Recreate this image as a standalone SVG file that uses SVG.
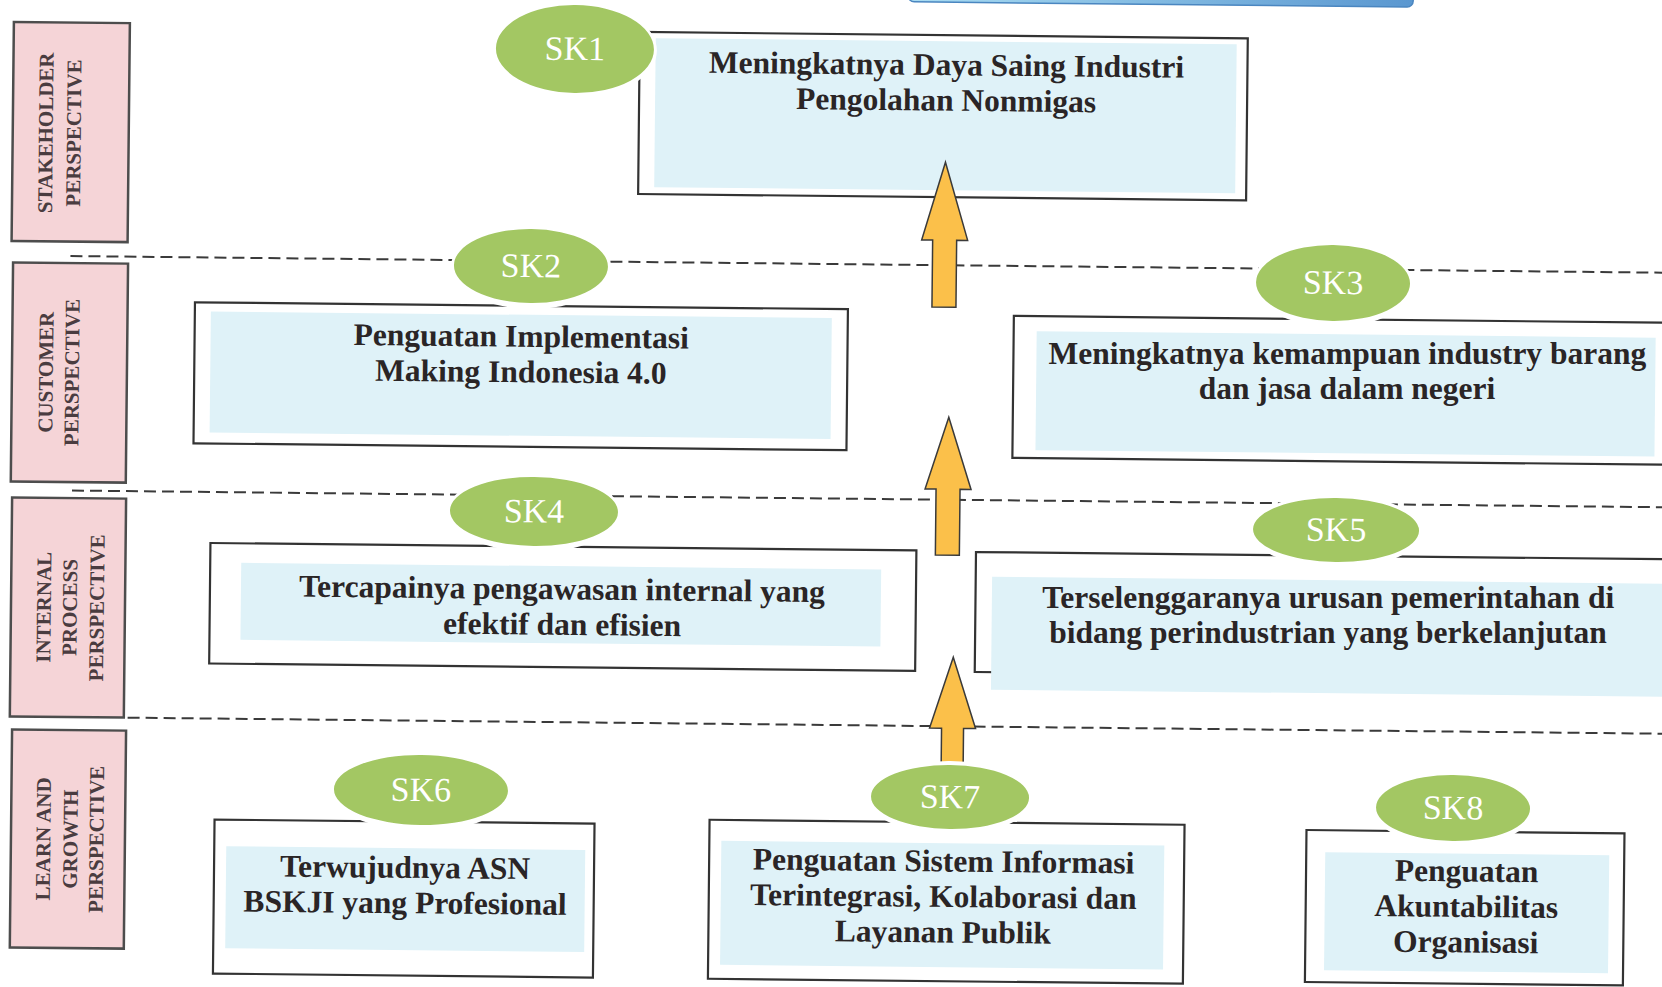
<svg xmlns="http://www.w3.org/2000/svg" width="1662" height="987" viewBox="0 0 1662 987">
<defs>
<style>
.lbl{fill:#f5d4d7;stroke:#4d4d4d;stroke-width:2.5}
.lt{font-family:"Liberation Serif","Times New Roman",serif;font-weight:bold;font-size:21px;fill:#4a3c40;text-anchor:middle}
.sep{stroke:#3a3a3a;stroke-width:2;stroke-dasharray:12 6;fill:none}
.box{fill:#fff;stroke:#333;stroke-width:2.2}
.inner{fill:#dff2f8}
.halo{fill:#fff}
.oval{fill:#a3c763}
.sk{font-family:"Liberation Serif","Times New Roman",serif;font-size:34px;fill:#fff;text-anchor:middle}
.bt{font-family:"Liberation Serif","Times New Roman",serif;font-weight:bold;font-size:31.5px;fill:#2a2526;text-anchor:middle}
.arr{fill:#fbc04a;stroke:#3a3a3a;stroke-width:1.5}
</style>
<linearGradient id="bar" x1="0" x2="1" y1="0" y2="0"><stop offset="0" stop-color="#a9dcf2"/><stop offset="1" stop-color="#5a97d0"/></linearGradient>
</defs>
<rect width="1662" height="987" fill="#fff"/>
<g transform="rotate(0.6 831 493)">
<rect x="903" y="-30" width="505" height="31" rx="6" fill="url(#bar)" stroke="#4a86c0" stroke-width="1.5"/>

<g id="separators">
<line class="sep" x1="68" y1="264" x2="1720" y2="264"/>
<line class="sep" x1="72" y1="498.5" x2="1720" y2="498.5"/>
<line class="sep" x1="130" y1="725" x2="1720" y2="725"/>
</g>

<g id="perspective-stakeholder">
<rect class="lbl" x="9" y="30.5" width="116" height="219"/>
<text class="lt" transform="translate(49 141) rotate(-90)">STAKEHOLDER</text>
<text class="lt" transform="translate(77 141) rotate(-90)">PERSPECTIVE</text>
</g>
<g id="perspective-customer">
<rect class="lbl" x="10.7" y="271" width="115" height="219"/>
<text class="lt" transform="translate(51.7 380.5) rotate(-90)">CUSTOMER</text>
<text class="lt" transform="translate(77.7 380.5) rotate(-90)">PERSPECTIVE</text>
</g>
<g id="perspective-internal">
<rect class="lbl" x="12.2" y="506" width="114" height="219"/>
<text class="lt" transform="translate(52 615.5) rotate(-90)">INTERNAL</text>
<text class="lt" transform="translate(78 615.5) rotate(-90)">PROCESS</text>
<text class="lt" transform="translate(105 615.5) rotate(-90)">PERSPECTIVE</text>
</g>
<g id="perspective-learn">
<rect class="lbl" x="14.6" y="738" width="114" height="218"/>
<text class="lt" transform="translate(54 847) rotate(-90)">LEARN AND</text>
<text class="lt" transform="translate(81 847) rotate(-90)">GROWTH</text>
<text class="lt" transform="translate(107 847) rotate(-90)">PERSPECTIVE</text>
</g>

<g id="SK1">
<rect class="box" x="635" y="34" width="608" height="162"/>
<rect class="inner" x="651" y="40" width="581" height="149"/>
<text class="bt" x="942" y="74">Meningkatnya Daya Saing Industri</text>
<text class="bt" x="942" y="109.5">Pengolahan Nonmigas</text>
<ellipse class="halo" cx="570.3" cy="52.7" rx="82" ry="48"/>
<ellipse class="oval" cx="570.3" cy="51.7" rx="79" ry="44"/>
<text class="sk" x="570.3" y="62.7">SK1</text>
</g>

<g id="SK2">
<rect class="box" x="193" y="309" width="653" height="141"/>
<rect class="inner" x="209" y="318" width="621" height="121"/>
<text class="bt" x="519.6" y="350">Penguatan Implementasi</text>
<text class="bt" x="519.6" y="385.5">Making Indonesia 4.0</text>
<ellipse class="halo" cx="528.6" cy="270.2" rx="80" ry="42"/>
<ellipse class="oval" cx="528.6" cy="269.2" rx="77" ry="37"/>
<text class="sk" x="528.6" y="280.2">SK2</text>
</g>

<g id="SK3">
<rect class="box" x="1012" y="314" width="720" height="142"/>
<rect class="inner" x="1035" y="329" width="619" height="119"/>
<text class="bt" x="1346" y="358.4" transform="rotate(-0.6 1346 358.4)">Meningkatnya kemampuan industry barang</text>
<text class="bt" x="1346" y="393.9" transform="rotate(-0.6 1346 393.9)">dan jasa dalam negeri</text>
<ellipse class="halo" cx="1330.8" cy="278.7" rx="80" ry="43"/>
<ellipse class="oval" cx="1330.8" cy="277.7" rx="77" ry="38"/>
<text class="sk" x="1330.8" y="288.7">SK3</text>
</g>

<g id="SK4">
<rect class="box" x="211" y="549.5" width="706" height="120.5"/>
<rect class="inner" x="242" y="569" width="640" height="77"/>
<text class="bt" x="563" y="602.2">Tercapainya pengawasan internal yang</text>
<text class="bt" x="563.5" y="637.7">efektif dan efisien</text>
<ellipse class="halo" cx="534.2" cy="515.6" rx="87" ry="39.5"/>
<ellipse class="oval" cx="534.2" cy="514.6" rx="84" ry="34.5"/>
<text class="sk" x="534.2" y="525.6">SK4</text>
</g>

<g id="SK5">
<rect class="box" x="976.6" y="550.5" width="760" height="120"/>
<rect class="inner" x="993" y="575" width="720" height="113"/>
<text class="bt" x="1329.4" y="602.5" transform="rotate(-0.6 1329.4 602.5)">Terselenggaranya urusan pemerintahan di</text>
<text class="bt" x="1329.6" y="638" transform="rotate(-0.6 1329.6 638)">bidang perindustrian yang berkelanjutan</text>
<ellipse class="halo" cx="1336.4" cy="525.7" rx="86" ry="37"/>
<ellipse class="oval" cx="1336.4" cy="524.7" rx="83" ry="32"/>
<text class="sk" x="1336.4" y="535.7">SK5</text>
</g>

<g id="SK6">
<rect class="box" x="218" y="826" width="380" height="154"/>
<rect class="inner" x="230" y="852.5" width="359" height="102"/>
<text class="bt" x="409" y="882.2">Terwujudnya ASN</text>
<text class="bt" x="409.4" y="917.7">BSKJI yang Profesional</text>
<ellipse class="halo" cx="424.1" cy="795.3" rx="90" ry="40"/>
<ellipse class="oval" cx="424.1" cy="794.3" rx="87" ry="35"/>
<text class="sk" x="424.1" y="805.3">SK6</text>
</g>

<g id="connectors">
<polygon class="arr" points="942,161 965,239 954,239 954,306 930,306 930,239 919,239"/>
<polygon class="arr" points="948,416 971,488 960,488 960,554 936,554 936,488 925,488"/>
<polygon class="arr" points="955,656 978,727 966,727 966,769 944,769 944,727 932,727"/>
</g>

<g id="SK7">
<rect class="box" x="713" y="821" width="475" height="159"/>
<rect class="inner" x="725" y="842" width="443" height="124"/>
<text class="bt" x="947.5" y="870.3">Penguatan Sistem Informasi</text>
<text class="bt" x="947.5" y="905.8">Terintegrasi, Kolaborasi dan</text>
<text class="bt" x="947.5" y="941.3">Layanan Publik</text>
<ellipse class="halo" cx="953.2" cy="796.8" rx="82" ry="37"/>
<ellipse class="oval" cx="953.2" cy="795.8" rx="79" ry="32"/>
<text class="sk" x="953.2" y="806.8">SK7</text>
</g>

<g id="SK8">
<rect class="box" x="1310" y="825" width="318" height="152"/>
<rect class="inner" x="1329" y="847" width="284" height="118"/>
<text class="bt" x="1470.5" y="874.8">Penguatan</text>
<text class="bt" x="1470.5" y="910.3">Akuntabilitas</text>
<text class="bt" x="1470.5" y="945.8">Organisasi</text>
<ellipse class="halo" cx="1456.3" cy="802.5" rx="80" ry="38"/>
<ellipse class="oval" cx="1456.3" cy="801.5" rx="77" ry="33"/>
<text class="sk" x="1456.3" y="812.5">SK8</text>
</g>
</g>
</svg>
